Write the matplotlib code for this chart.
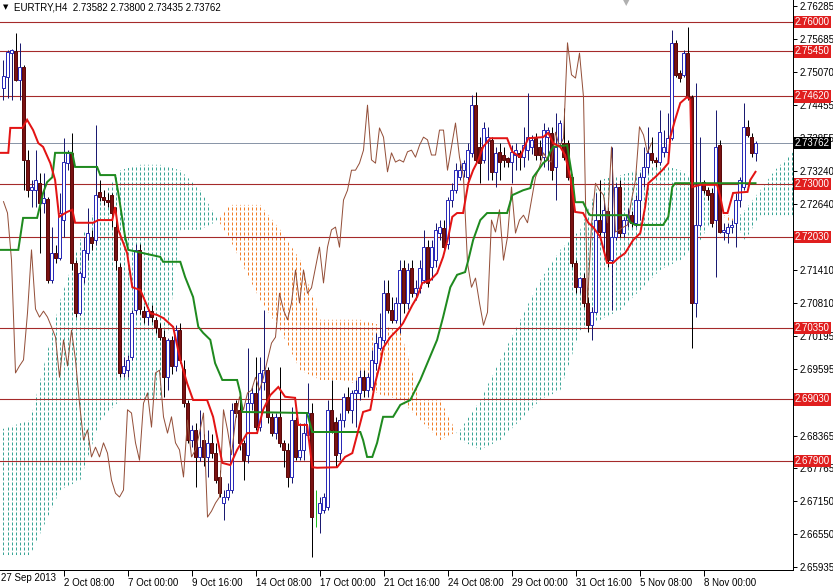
import numpy as np
import matplotlib
matplotlib.use('Agg')
import matplotlib.pyplot as plt
from matplotlib.path import Path
from matplotlib.patches import PathPatch

plt.rcParams['font.family'] = ['Liberation Sans', 'DejaVu Sans']

# H4 candles, one row per bar: open, high, low, close
candles = [
    (2.7478, 2.7529, 2.7456, 2.7500), (2.7498, 2.7548, 2.7460, 2.7544), (2.7542, 2.7550, 2.7456, 2.7548),
    (2.7546, 2.7579, 2.7490, 2.7492), (2.7492, 2.7561, 2.7456, 2.7516), (2.7516, 2.7520, 2.7289, 2.7345),
    (2.7345, 2.7363, 2.7277, 2.7289), (2.7289, 2.7308, 2.7258, 2.7295), (2.7289, 2.7363, 2.7258, 2.7308),
    (2.7302, 2.7320, 2.7173, 2.7265), (2.7265, 2.7320, 2.7247, 2.7275), (2.7273, 2.7277, 2.7118, 2.7123),
    (2.7123, 2.7221, 2.7118, 2.7173), (2.7173, 2.7188, 2.7155, 2.7164), (2.7164, 2.7284, 2.7160, 2.7247),
    (2.7234, 2.7385, 2.7203, 2.7341), (2.7339, 2.7363, 2.7326, 2.7358), (2.7358, 2.7395, 2.7142, 2.7155),
    (2.7155, 2.7160, 2.7055, 2.7063), (2.7063, 2.7140, 2.7059, 2.7136), (2.7129, 2.7203, 2.7118, 2.7179),
    (2.7173, 2.7256, 2.7160, 2.7210), (2.7203, 2.7216, 2.7179, 2.7192), (2.7197, 2.7409, 2.7188, 2.7280),
    (2.7285, 2.7308, 2.7270, 2.7277), (2.7277, 2.7289, 2.7262, 2.7271), (2.7271, 2.7284, 2.7258, 2.7268),
    (2.7280, 2.7284, 2.7221, 2.7247), (2.7221, 2.7258, 2.7142, 2.7160), (2.7147, 2.7155, 2.6944, 2.6952),
    (2.6952, 2.6981, 2.6944, 2.6965), (2.6957, 2.6985, 2.6944, 2.6976), (2.6981, 2.7068, 2.6976, 2.7063),
    (2.7068, 2.7190, 2.7060, 2.7179), (2.7179, 2.7190, 2.7060, 2.7070), (2.7066, 2.7075, 2.7044, 2.7055),
    (2.7055, 2.7074, 2.7040, 2.7066), (2.7066, 2.7077, 2.7046, 2.7055), (2.7050, 2.7055, 2.7026, 2.7037),
    (2.7035, 2.7044, 2.7013, 2.7018), (2.7018, 2.7031, 2.6908, 2.6944), (2.6944, 2.7016, 2.6920, 2.7013),
    (2.7013, 2.7020, 2.6950, 2.6965), (2.6965, 2.7040, 2.6955, 2.7031), (2.7031, 2.7044, 2.6970, 2.6976),
    (2.6960, 2.6976, 2.6889, 2.6896), (2.6896, 2.6902, 2.6823, 2.6828), (2.6828, 2.6856, 2.6815, 2.6847),
    (2.6847, 2.6860, 2.6741, 2.6797), (2.6797, 2.6884, 2.6790, 2.6815), (2.6828, 2.6840, 2.6780, 2.6797),
    (2.6797, 2.6847, 2.6760, 2.6823), (2.6823, 2.6840, 2.6795, 2.6804), (2.6804, 2.6823, 2.6749, 2.6754),
    (2.6760, 2.6773, 2.6723, 2.6730), (2.6712, 2.6736, 2.6681, 2.6723), (2.6723, 2.6749, 2.6717, 2.6736),
    (2.6736, 2.6896, 2.6730, 2.6884), (2.6896, 2.6902, 2.6871, 2.6878), (2.6884, 2.6902, 2.6810, 2.6823),
    (2.6823, 2.6828, 2.6754, 2.6791), (2.6800, 2.6998, 2.6785, 2.6896), (2.6896, 2.6926, 2.6884, 2.6915),
    (2.6915, 2.6981, 2.6847, 2.6852), (2.6852, 2.6981, 2.6845, 2.6952), (2.6935, 2.7068, 2.6920, 2.6957),
    (2.6957, 2.6963, 2.6860, 2.6871), (2.6871, 2.6878, 2.6835, 2.6841), (2.6841, 2.6878, 2.6830, 2.6871),
    (2.6871, 2.6963, 2.6815, 2.6823), (2.6823, 2.6828, 2.6778, 2.6810), (2.6810, 2.6823, 2.6741, 2.6760),
    (2.6760, 2.6889, 2.6749, 2.6865), (2.6865, 2.6871, 2.6791, 2.6797), (2.6797, 2.6860, 2.6791, 2.6810),
    (2.6810, 2.6860, 2.6791, 2.6841), (2.6837, 2.6933, 2.6828, 2.6878), (2.6878, 2.6896, 2.6612, 2.6686),
    (2.6697, 2.6736, 2.6668, 2.6697), (2.6694, 2.6723, 2.6657, 2.6712), (2.6699, 2.6730, 2.6694, 2.6723),
    (2.6705, 2.6902, 2.6699, 2.6884), (2.6884, 2.6939, 2.6841, 2.6847), (2.6862, 2.6871, 2.6778, 2.6801),
    (2.6804, 2.6878, 2.6791, 2.6865), (2.6865, 2.6915, 2.6852, 2.6908), (2.6908, 2.6926, 2.6878, 2.6884),
    (2.6884, 2.6920, 2.6860, 2.6915), (2.6915, 2.6939, 2.6852, 2.6920), (2.6915, 2.6957, 2.6902, 2.6944),
    (2.6944, 2.6957, 2.6908, 2.6920), (2.6920, 2.6952, 2.6908, 2.6944), (2.6926, 2.6994, 2.6920, 2.6976),
    (2.6970, 2.7026, 2.6957, 2.7007), (2.6998, 2.7063, 2.6994, 2.7018), (2.7013, 2.7123, 2.7007, 2.7099),
    (2.7099, 2.7123, 2.7063, 2.7068), (2.7068, 2.7092, 2.7044, 2.7050), (2.7050, 2.7092, 2.7044, 2.7081),
    (2.7081, 2.7160, 2.7026, 2.7142), (2.7146, 2.7160, 2.7063, 2.7081), (2.7081, 2.7155, 2.7070, 2.7142),
    (2.7146, 2.7160, 2.7092, 2.7099), (2.7099, 2.7123, 2.7086, 2.7109), (2.7109, 2.7160, 2.7099, 2.7146),
    (2.7123, 2.7216, 2.7118, 2.7184), (2.7184, 2.7197, 2.7110, 2.7118), (2.7147, 2.7197, 2.7123, 2.7184),
    (2.7160, 2.7229, 2.7147, 2.7216), (2.7210, 2.7234, 2.7197, 2.7221), (2.7219, 2.7234, 2.7179, 2.7184),
    (2.7190, 2.7277, 2.7180, 2.7271), (2.7271, 2.7302, 2.7258, 2.7289), (2.7289, 2.7339, 2.7284, 2.7326),
    (2.7313, 2.7339, 2.7308, 2.7326), (2.7326, 2.7345, 2.7313, 2.7339), (2.7313, 2.7376, 2.7308, 2.7363),
    (2.7358, 2.7465, 2.7350, 2.7446), (2.7446, 2.7470, 2.7339, 2.7345), (2.7369, 2.7387, 2.7302, 2.7339),
    (2.7345, 2.7415, 2.7339, 2.7404), (2.7380, 2.7406, 2.7308, 2.7387), (2.7382, 2.7387, 2.7308, 2.7323),
    (2.7323, 2.7369, 2.7295, 2.7358), (2.7360, 2.7376, 2.7308, 2.7341), (2.7354, 2.7369, 2.7332, 2.7345),
    (2.7348, 2.7350, 2.7332, 2.7341), (2.7341, 2.7372, 2.7302, 2.7360), (2.7354, 2.7376, 2.7326, 2.7363),
    (2.7358, 2.7363, 2.7326, 2.7350), (2.7350, 2.7406, 2.7332, 2.7372), (2.7363, 2.7468, 2.7345, 2.7387),
    (2.7369, 2.7391, 2.7356, 2.7382), (2.7385, 2.7395, 2.7345, 2.7354), (2.7369, 2.7382, 2.7345, 2.7354),
    (2.7350, 2.7413, 2.7332, 2.7400), (2.7387, 2.7406, 2.7326, 2.7400), (2.7395, 2.7406, 2.7308, 2.7326),
    (2.7332, 2.7432, 2.7271, 2.7369), (2.7376, 2.7419, 2.7369, 2.7413), (2.7376, 2.7440, 2.7345, 2.7350),
    (2.7376, 2.7382, 2.7308, 2.7313), (2.7313, 2.7319, 2.7147, 2.7155), (2.7155, 2.7160, 2.7099, 2.7110),
    (2.7110, 2.7129, 2.7099, 2.7127), (2.7127, 2.7136, 2.7074, 2.7081), (2.7081, 2.7092, 2.7027, 2.7040),
    (2.7040, 2.7074, 2.7013, 2.7064), (2.7064, 2.7284, 2.7063, 2.7234), (2.7234, 2.7308, 2.7203, 2.7212),
    (2.7212, 2.7271, 2.7173, 2.7253), (2.7250, 2.7258, 2.7147, 2.7160), (2.7160, 2.7369, 2.7068, 2.7203),
    (2.7203, 2.7302, 2.7197, 2.7295), (2.7295, 2.7308, 2.7203, 2.7210), (2.7210, 2.7240, 2.7203, 2.7234),
    (2.7234, 2.7256, 2.7221, 2.7243), (2.7243, 2.7250, 2.7221, 2.7229), (2.7229, 2.7280, 2.7221, 2.7271),
    (2.7271, 2.7320, 2.7234, 2.7313), (2.7313, 2.7369, 2.7295, 2.7332), (2.7332, 2.7406, 2.7320, 2.7358),
    (2.7358, 2.7387, 2.7339, 2.7345), (2.7345, 2.7350, 2.7332, 2.7341), (2.7341, 2.7437, 2.7336, 2.7396),
    (2.7360, 2.7400, 2.7350, 2.7369), (2.7360, 2.7432, 2.7358, 2.7385), (2.7385, 2.7585, 2.7382, 2.7561),
    (2.7561, 2.7566, 2.7498, 2.7502), (2.7505, 2.7511, 2.7489, 2.7496), (2.7502, 2.7548, 2.7498, 2.7542),
    (2.7542, 2.7590, 2.7456, 2.7461), (2.7461, 2.7465, 2.6998, 2.7081), (2.7081, 2.7487, 2.7055, 2.7225),
    (2.7225, 2.7387, 2.7221, 2.7302), (2.7304, 2.7308, 2.7284, 2.7289), (2.7289, 2.7295, 2.7271, 2.7280),
    (2.7284, 2.7293, 2.7221, 2.7229), (2.7234, 2.7437, 2.7129, 2.7369), (2.7372, 2.7382, 2.7210, 2.7212),
    (2.7212, 2.7229, 2.7197, 2.7216), (2.7210, 2.7229, 2.7192, 2.7221), (2.7221, 2.7234, 2.7210, 2.7225),
    (2.7229, 2.7284, 2.7184, 2.7271), (2.7271, 2.7313, 2.7258, 2.7308), (2.7295, 2.7450, 2.7289, 2.7406),
    (2.7406, 2.7419, 2.7387, 2.7391), (2.7387, 2.7395, 2.7350, 2.7358), (2.73582, 2.73800, 2.73435, 2.73762),
]

# Ichimoku lines as (bar, price) vertices
tenkan_pts = [
    (-0.8, 2.7358), (1.2, 2.7358), (1.7, 2.7404), (4.7, 2.7404), (5.9, 2.7419), (7.4, 2.7400), (8.7, 2.7376),
    (9.9, 2.7369), (11.7, 2.7339), (12.9, 2.7308), (13.9, 2.7240), (15.9, 2.7249), (17.2, 2.7253), (17.9, 2.7229),
    (22.4, 2.7229), (23.7, 2.7234), (27.2, 2.7234), (27.9, 2.7258), (28.7, 2.7216), (30.9, 2.7173), (32.2, 2.7110),
    (34.2, 2.7105), (36.7, 2.7062), (38.4, 2.7059), (40.0, 2.7053), (42.4, 2.7037), (44.2, 2.6976), (45.9, 2.6933),
    (47.4, 2.6902), (50.9, 2.6902), (52.4, 2.6871), (53.7, 2.6823), (54.7, 2.6786), (56.7, 2.6782), (58.4, 2.6810),
    (60.9, 2.6841), (63.4, 2.6841), (64.9, 2.6884), (66.7, 2.6911), (68.7, 2.6926), (70.4, 2.6908), (72.9, 2.6906),
    (73.7, 2.6856), (75.9, 2.6856), (77.2, 2.6778), (78.4, 2.6777), (83.4, 2.6778), (85.4, 2.6797), (87.2, 2.6804),
    (89.2, 2.6860), (89.9, 2.6880), (91.7, 2.6884), (92.9, 2.6933), (94.2, 2.6970), (94.9, 2.6998), (96.7, 2.7018),
    (99.2, 2.7037), (99.9, 2.7044), (102.2, 2.7077), (103.4, 2.7092), (104.7, 2.7118), (106.7, 2.7123),
    (108.4, 2.7136), (109.9, 2.7166), (111.2, 2.7203), (112.2, 2.7240), (113.4, 2.7247), (114.9, 2.7247),
    (116.2, 2.7302), (117.4, 2.7326), (118.7, 2.7345), (119.9, 2.7369), (121.7, 2.7385), (125.9, 2.7385),
    (127.2, 2.7360), (129.2, 2.7350), (129.9, 2.7363), (131.2, 2.7385), (134.9, 2.7387), (136.2, 2.7395),
    (137.4, 2.7376), (139.2, 2.7369), (140.4, 2.7354), (141.7, 2.7313), (142.9, 2.7249), (144.9, 2.7247),
    (146.2, 2.7229), (147.4, 2.7221), (149.2, 2.7203), (150.9, 2.7155), (152.4, 2.7155), (153.7, 2.7164),
    (155.4, 2.7173), (157.4, 2.7197), (159.2, 2.7210), (160.4, 2.7258), (161.2, 2.7302), (162.9, 2.7313),
    (164.7, 2.7326), (166.2, 2.7339), (166.7, 2.7387), (167.9, 2.7419), (169.2, 2.7450), (170.9, 2.7461),
    (171.7, 2.7456), (172.2, 2.7295), (174.2, 2.7299), (178.4, 2.7299), (179.2, 2.7277), (180.0, 2.7247),
    (181.0, 2.7247), (182.4, 2.7284), (186.0, 2.7286), (186.7, 2.7308), (188.0, 2.7323),
]
kijun_pts = [
    (-0.8, 2.7179), (3.7, 2.7179), (4.9, 2.7238), (8.4, 2.7238), (9.9, 2.7284), (10.9, 2.7304), (12.2, 2.7313),
    (12.9, 2.7358), (17.2, 2.7358), (17.9, 2.7332), (23.4, 2.7332), (24.2, 2.7317), (27.9, 2.7317), (28.7, 2.7284),
    (30.4, 2.7203), (31.2, 2.7179), (39.2, 2.7166), (39.9, 2.7157), (44.2, 2.7157), (45.4, 2.7129), (47.4, 2.7092),
    (48.7, 2.7037), (49.9, 2.7026), (51.7, 2.7013), (52.9, 2.6970), (54.7, 2.6939), (58.4, 2.6939), (59.2, 2.6915),
    (59.7, 2.6880), (75.9, 2.6878), (77.2, 2.6843), (89.2, 2.6843), (89.9, 2.6828), (90.9, 2.6797), (92.2, 2.6797),
    (93.4, 2.6823), (94.7, 2.6865), (94.9, 2.6871), (97.4, 2.6871), (99.2, 2.6893), (101.7, 2.6902),
    (104.2, 2.6939), (108.4, 2.7013), (109.9, 2.7055), (111.7, 2.7110), (113.4, 2.7133), (115.4, 2.7138),
    (116.2, 2.7160), (117.4, 2.7197), (119.2, 2.7234), (120.9, 2.7247), (125.9, 2.7247), (127.2, 2.7280),
    (128.4, 2.7284), (129.9, 2.7289), (131.7, 2.7293), (132.4, 2.7313), (133.7, 2.7326), (134.9, 2.7339),
    (135.9, 2.7345), (136.7, 2.7360), (137.4, 2.7369), (140.9, 2.7372), (142.2, 2.7313), (142.9, 2.7267),
    (144.9, 2.7267), (146.2, 2.7247), (146.7, 2.7243), (155.9, 2.7243), (156.7, 2.7230), (157.9, 2.7225),
    (164.9, 2.7225), (166.2, 2.7240), (167.2, 2.7295), (167.9, 2.7302), (188.0, 2.7302),
]

# Kumo edges (senkou span A / B) at the same bar positions
cloud_x = [-0.8, 6.7, 14.2, 19.2, 24.2, 29.2, 34.2, 39.2, 44.2, 49.2, 52.9, 56.7, 60.4, 64.2, 69.2, 74.2,
           79.2, 84.2, 89.2, 94.2, 99.2, 104.2, 109.2, 114.2, 119.2, 124.2, 129.2, 134.2, 139.2, 144.2,
           149.2, 154.2, 159.2, 164.2, 169.2, 174.2, 177.9, 181.7, 185.4, 189.2, 192.9, 197.9]
span_a = [2.6847, 2.6865, 2.7086, 2.7197, 2.7271, 2.7326, 2.7336, 2.7336, 2.7326, 2.7289, 2.7243, 2.7197,
          2.7142, 2.7086, 2.7031, 2.6957, 2.6939, 2.6939, 2.6930, 2.6912, 2.6902, 2.6865, 2.6828, 2.6847,
          2.6902, 2.6976, 2.7050, 2.7123, 2.7179, 2.7216, 2.7308, 2.7317, 2.7326, 2.7336, 2.7326, 2.7299,
          2.7262, 2.7225, 2.7253, 2.7289, 2.7326, 2.7363]
span_b = [2.6616, 2.6616, 2.6736, 2.6754, 2.6865, 2.6902, 2.6902, 2.6902, 2.7216, 2.7216, 2.7230, 2.7262,
          2.7262, 2.7262, 2.7216, 2.7160, 2.7050, 2.7050, 2.7050, 2.7040, 2.7031, 2.6902, 2.6902, 2.6828,
          2.6810, 2.6828, 2.6865, 2.6902, 2.6920, 2.7031, 2.7050, 2.7068, 2.7105, 2.7142, 2.7160, 2.7197,
          2.7243, 2.7243, 2.7197, 2.7243, 2.7243, 2.7243]

levels = [2.7600, 2.7545, 2.7462, 2.7300, 2.7203, 2.7035, 2.6903, 2.6790]
last_price = 2.73762
# scale labels left visible (those under the level boxes are not shown)
price_ticks = [2.76285, 2.75685, 2.75070, 2.74455, 2.73855, 2.73240, 2.72640, 2.71410,
               2.70810, 2.70195, 2.69595, 2.68365, 2.67765, 2.67150, 2.66550, 2.65935]
date_pos = [15, 31, 47, 63, 79, 95, 111, 127, 143, 159, 175]
date_labels = ['2 Oct 08:00', '7 Oct 00:00', '9 Oct 16:00', '14 Oct 08:00', '17 Oct 00:00', '21 Oct 16:00',
               '24 Oct 08:00', '29 Oct 00:00', '31 Oct 16:00', '5 Nov 08:00', '8 Nov 00:00']
title = 'EURTRY,H4  2.73582 2.73800 2.73435 2.73762'

W, H = 833, 586
PX = 0.72  # one pixel in points
YLO, YHI = 2.65884, 2.76400

fig = plt.figure(figsize=(W / 100, H / 100), dpi=100)
ax = fig.add_axes([0, 16 / H, 793 / W, 570 / H])
# 4 px per bar, bars centred on pixel columns
ax.set_xlim(-3.5 / 4, 789.5 / 4)
ax.set_ylim(YLO, YHI)

# cloud: dotted vertical strokes per bar, clipped to the area between the spans
cx, sa, sb = np.array(cloud_x), np.array(span_a), np.array(span_b)
cols = np.arange(-1, 199)
for mask, colour in [(sa >= sb, '#3aa596'), (sa < sb, '#f07d28')]:
    poly = ax.fill_between(cx, sa, sb, where=mask, interpolate=True, facecolor='none', edgecolor='none')
    paths = poly.get_paths()
    if not paths:
        continue
    clip = PathPatch(Path.make_compound_path(*paths), transform=ax.transData, fc='none', ec='none')
    ax.add_patch(clip)
    lc = ax.vlines(cols, YLO, YHI, colors=colour, linewidth=PX, linestyles=[(0, (3, 2))], zorder=1)
    lc.set_clip_path(clip)

for lv in levels:
    ax.axhline(lv, color='#a52a2a', lw=PX * 1.1, zorder=2)
ax.axhline(last_price, color='#8a96a8', lw=PX, zorder=2)

# candles
o, h, l, c = (np.array(v) for v in zip(*candles))
idx = np.arange(len(o))
up, dn, dj = c > o, c < o, c == o
ax.vlines(idx[up], l[up], h[up], colors='#1a1a70', lw=PX, zorder=3)
ax.vlines(idx[dn], l[dn], h[dn], colors='black', lw=PX, zorder=3)
ax.vlines(idx[dj], l[dj], h[dj], colors='#20c020', lw=PX, zorder=3)
ax.bar(idx[up], (c - o)[up], bottom=o[up], width=0.7, color='white', edgecolor='#2a2ab8', linewidth=PX, zorder=4)
ax.bar(idx[dn], (o - c)[dn], bottom=c[dn], width=0.7, color='#7a1212', edgecolor='#5a0a0a', linewidth=PX, zorder=4)

# chikou span = close shifted 26 bars back
ax.plot(idx[:-26], c[26:], color='#94503a', lw=PX, zorder=5)
kx, ky = zip(*kijun_pts)
ax.plot(kx, ky, color='#1f8a1f', lw=PX * 2, zorder=5, solid_joinstyle='miter')
tx, ty = zip(*tenkan_pts)
ax.plot(tx, ty, color='#e31414', lw=PX * 2, zorder=6, solid_joinstyle='miter')

# axes
for s in ['left', 'top']:
    ax.spines[s].set_visible(False)
for s in ['right', 'bottom']:
    ax.spines[s].set_linewidth(PX)
ax.yaxis.tick_right()
ax.set_yticks(price_ticks)
ax.set_yticklabels([f'{v:.5f}' for v in price_ticks])
ax.tick_params(axis='y', length=3, width=PX, pad=1.5, labelsize=7)
ax.set_xticks(date_pos)
ax.set_xticklabels(date_labels)
ax.tick_params(axis='x', length=4, width=PX, pad=1.5, labelsize=7)
for t in ax.get_xticklabels():
    t.set_horizontalalignment('left')
fig.text(1 / W, 1 - 578 / H, '27 Sep 2013', fontsize=7, va='center', ha='left')

ytr = ax.get_yaxis_transform()
for lv in levels:
    ax.text(1.0 + 2 / 793, lv, f'{lv:.5f}', transform=ytr, ha='left', va='center', fontsize=7, color='white',
            bbox=dict(boxstyle='square,pad=0.12', fc='#e01e1e', ec='none'), zorder=10, clip_on=False)
ax.text(1.0 + 2 / 793, last_price, f'{last_price:.5f}', transform=ytr, ha='left', va='center', fontsize=7,
        color='white', bbox=dict(boxstyle='square,pad=0.12', fc='black', ec='none'), zorder=10, clip_on=False)

fig.text(3 / W, 1 - 7 / H, '\u25bc', fontsize=5, va='center', ha='left', family='DejaVu Sans')
fig.text(14 / W, 1 - 7 / H, title, fontsize=7, va='center', ha='left')
fig.text(626 / W, 1 - 3 / H, '\u25bc', fontsize=6, va='center', ha='center', color='#b0b0b0', family='DejaVu Sans')

fig.savefig('out.png', dpi=100, facecolor='white')
